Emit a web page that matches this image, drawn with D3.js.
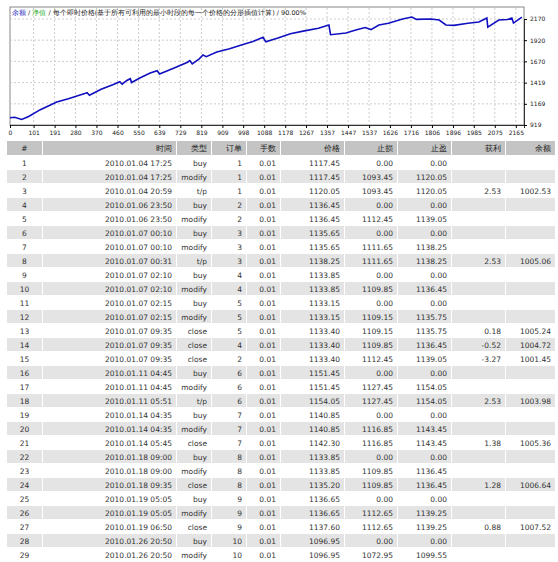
<!DOCTYPE html>
<html>
<head>
<meta charset="utf-8">
<script src="https://cdn.jsdelivr.net/npm/d3@7"></script>
<style>
body { margin: 0; background: #fff; }
svg text { font-family: "DejaVu Sans", sans-serif; }
</style>
</head>
<body>
<div id="vis"></div>
<script>
// equity curve (trade index -> balance)
const tradeIdx = [0, 20, 50, 80, 130, 200, 250, 320, 330, 340, 390, 440, 470, 480, 500, 515, 520, 560, 600, 630, 640, 700, 760, 770, 780, 810, 826, 840, 885, 940, 997, 1040, 1083, 1095, 1147, 1200, 1260, 1320, 1365, 1372, 1438, 1480, 1520, 1545, 1579, 1620, 1680, 1720, 1740, 1800, 1837, 1866, 1900, 1960, 2007, 2041, 2045, 2092, 2130, 2148, 2155, 2191];
const balance  = [1005, 1010, 985, 1020, 1100, 1190, 1230, 1290, 1300, 1270, 1340, 1395, 1430, 1400, 1445, 1465, 1420, 1480, 1533, 1560, 1520, 1590, 1660, 1680, 1640, 1700, 1745, 1725, 1780, 1820, 1870, 1905, 1955, 1900, 1945, 1995, 2030, 2060, 2099, 1985, 2005, 2040, 2070, 2045, 2099, 2120, 2170, 2193, 2165, 2170, 2158, 2099, 2095, 2120, 2134, 2181, 2075, 2158, 2165, 2181, 2122, 2193];

const xTicks = [0, 101, 191, 280, 370, 460, 550, 639, 729, 819, 909, 998, 1088, 1178, 1267, 1357, 1447, 1537, 1626, 1716, 1806, 1896, 1985, 2075, 2165];
const yTicks = [919, 1169, 1419, 1670, 1920, 2170];

const headers = ["#", "时间", "类型", "订单", "手数", "价格", "止损", "止盈", "获利", "余额"];
const rowTime = ["2010.01.04 17:25", "2010.01.04 17:25", "2010.01.04 20:59", "2010.01.06 23:50", "2010.01.06 23:50", "2010.01.07 00:10", "2010.01.07 00:10", "2010.01.07 00:31", "2010.01.07 02:10", "2010.01.07 02:10", "2010.01.07 02:15", "2010.01.07 02:15", "2010.01.07 09:35", "2010.01.07 09:35", "2010.01.07 09:35", "2010.01.11 04:45", "2010.01.11 04:45", "2010.01.11 05:51", "2010.01.14 04:35", "2010.01.14 04:35", "2010.01.14 05:45", "2010.01.18 09:00", "2010.01.18 09:00", "2010.01.18 09:35", "2010.01.19 05:05", "2010.01.19 05:05", "2010.01.19 06:50", "2010.01.26 20:50", "2010.01.26 20:50"];
const rowType = ["buy", "modify", "t/p", "buy", "modify", "buy", "modify", "t/p", "buy", "modify", "buy", "modify", "close", "close", "close", "buy", "modify", "t/p", "buy", "modify", "close", "buy", "modify", "close", "buy", "modify", "close", "buy", "modify"];
const rowOrder = [1, 1, 1, 2, 2, 3, 3, 3, 4, 4, 5, 5, 5, 4, 2, 6, 6, 6, 7, 7, 7, 8, 8, 8, 9, 9, 9, 10, 10];
const rowPrice = ["1117.45", "1117.45", "1120.05", "1136.45", "1136.45", "1135.65", "1135.65", "1138.25", "1133.85", "1133.85", "1133.15", "1133.15", "1133.40", "1133.40", "1133.40", "1151.45", "1151.45", "1154.05", "1140.85", "1140.85", "1142.30", "1133.85", "1133.85", "1135.20", "1136.65", "1136.65", "1137.60", "1096.95", "1096.95"];
const rowSL = ["0.00", "1093.45", "1093.45", "0.00", "1112.45", "0.00", "1111.65", "1111.65", "0.00", "1109.85", "0.00", "1109.15", "1109.15", "1109.85", "1112.45", "0.00", "1127.45", "1127.45", "0.00", "1116.85", "1116.85", "0.00", "1109.85", "1109.85", "0.00", "1112.65", "1112.65", "0.00", "1072.95"];
const rowTP = ["0.00", "1120.05", "1120.05", "0.00", "1139.05", "0.00", "1138.25", "1138.25", "0.00", "1136.45", "0.00", "1135.75", "1135.75", "1136.45", "1139.05", "0.00", "1154.05", "1154.05", "0.00", "1143.45", "1143.45", "0.00", "1136.45", "1136.45", "0.00", "1139.25", "1139.25", "0.00", "1099.55"];
const rowProfit = ["", "", "2.53", "", "", "", "", "2.53", "", "", "", "", "0.18", "-0.52", "-3.27", "", "", "2.53", "", "", "1.38", "", "", "1.28", "", "", "0.88", "", ""];
const rowBal = ["", "", "1002.53", "", "", "", "", "1005.06", "", "", "", "", "1005.24", "1004.72", "1001.45", "", "", "1003.98", "", "", "1005.36", "", "", "1006.64", "", "", "1007.52", "", ""];

const svg = d3.select("#vis").append("svg").attr("width", 558).attr("height", 562);

// ---- chart ----
const x = d3.scaleLinear().domain([0, 2200]).range([10, 524]);
const y = d3.scaleLinear().domain([919, 2170]).range([125, 19]);

svg.append("rect").attr("x", 10).attr("y", 7).attr("width", 514).attr("height", 118)
    .attr("fill", "#fff").attr("stroke", "#888");

// dashed grid
svg.append("g").selectAll("line").data(xTicks.slice(1)).join("line")
    .attr("x1", d => x(d)).attr("x2", d => x(d)).attr("y1", 8).attr("y2", 125)
    .attr("stroke", "#ccc").attr("stroke-dasharray", "2,2");
svg.append("g").selectAll("line").data(yTicks.slice(1)).join("line")
    .attr("x1", 10).attr("x2", 524).attr("y1", d => y(d)).attr("y2", d => y(d))
    .attr("stroke", "#ccc").attr("stroke-dasharray", "2,2");

// axes
svg.append("g").attr("transform", "translate(0,125)")
    .call(d3.axisBottom(x).tickValues(xTicks).tickSize(3).tickFormat(d => d))
    .call(g => g.select(".domain").attr("stroke", "#333"))
    .call(g => g.selectAll("text").attr("font-size", 6).attr("fill", "#222").attr("dy", "0.6em"));
svg.append("g").attr("transform", "translate(524,0)")
    .call(d3.axisRight(y).tickValues(yTicks).tickSize(3).tickFormat(d => d))
    .call(g => g.select(".domain").attr("stroke", "#333"))
    .call(g => g.selectAll("text").attr("font-size", 6).attr("fill", "#222"));

const line = d3.line().x((d, i) => x(tradeIdx[i])).y(d => y(d));
svg.append("path").datum(balance).attr("d", line)
    .attr("fill", "none").attr("stroke", "#1010c0").attr("stroke-width", 1.6);

// title
const title = svg.append("text").attr("x", 12).attr("y", 15).attr("font-size", 6.5);
title.append("tspan").attr("fill", "#3030c0").text("余额");
title.append("tspan").attr("fill", "#222").text(" / ");
title.append("tspan").attr("fill", "#30b030").text("净值");
title.append("tspan").attr("fill", "#222").text(" / 每个即时价格(基于所有可利用的最小时段的每一个价格的分形插值计算) / 90.00%");

// ---- table ----
const colL = [7, 43, 177, 212, 247, 281, 345, 398, 452, 506];
const colR = [42, 176, 211, 246, 280, 344, 397, 451, 505, 555];
const headTop = 141, rowH = 14, rowTop = 156;

const cols = [
    i => i + 1, i => rowTime[i], i => rowType[i], i => rowOrder[i], i => "0.01",
    i => rowPrice[i], i => rowSL[i], i => rowTP[i], i => rowProfit[i], i => rowBal[i]
];

const head = svg.append("g");
head.selectAll("rect").data(headers).join("rect")
    .attr("x", (d, j) => colL[j]).attr("width", (d, j) => colR[j] - colL[j])
    .attr("y", headTop).attr("height", rowH).attr("fill", "#c4c4c4");
head.selectAll("text").data(headers).join("text")
    .attr("x", (d, j) => j === 0 ? (colL[0] + colR[0]) / 2 : colR[j] - 4)
    .attr("text-anchor", (d, j) => j === 0 ? "middle" : "end")
    .attr("y", headTop + 10).attr("font-size", 7.5).attr("fill", "#222").text(d => d);

const rows = svg.append("g").selectAll("g").data(rowTime).join("g")
    .attr("transform", (d, i) => `translate(0,${rowTop + i * rowH})`);
rows.filter((d, i) => i % 2 === 1).selectAll("rect").data(headers).join("rect")
    .attr("x", (d, j) => colL[j]).attr("width", (d, j) => colR[j] - colL[j])
    .attr("y", 0).attr("height", rowH - 1).attr("fill", "#e4e4e4");
rows.each(function (d, i) {
    d3.select(this).selectAll("text").data(cols).join("text")
        .attr("x", (f, j) => j === 0 ? (colL[0] + colR[0]) / 2 : colR[j] - 4)
        .attr("text-anchor", (f, j) => j === 0 ? "middle" : "end")
        .attr("y", 10).attr("font-size", 7.5).attr("fill", "#333")
        .text(f => f(i));
});
</script>
</body>
</html>
